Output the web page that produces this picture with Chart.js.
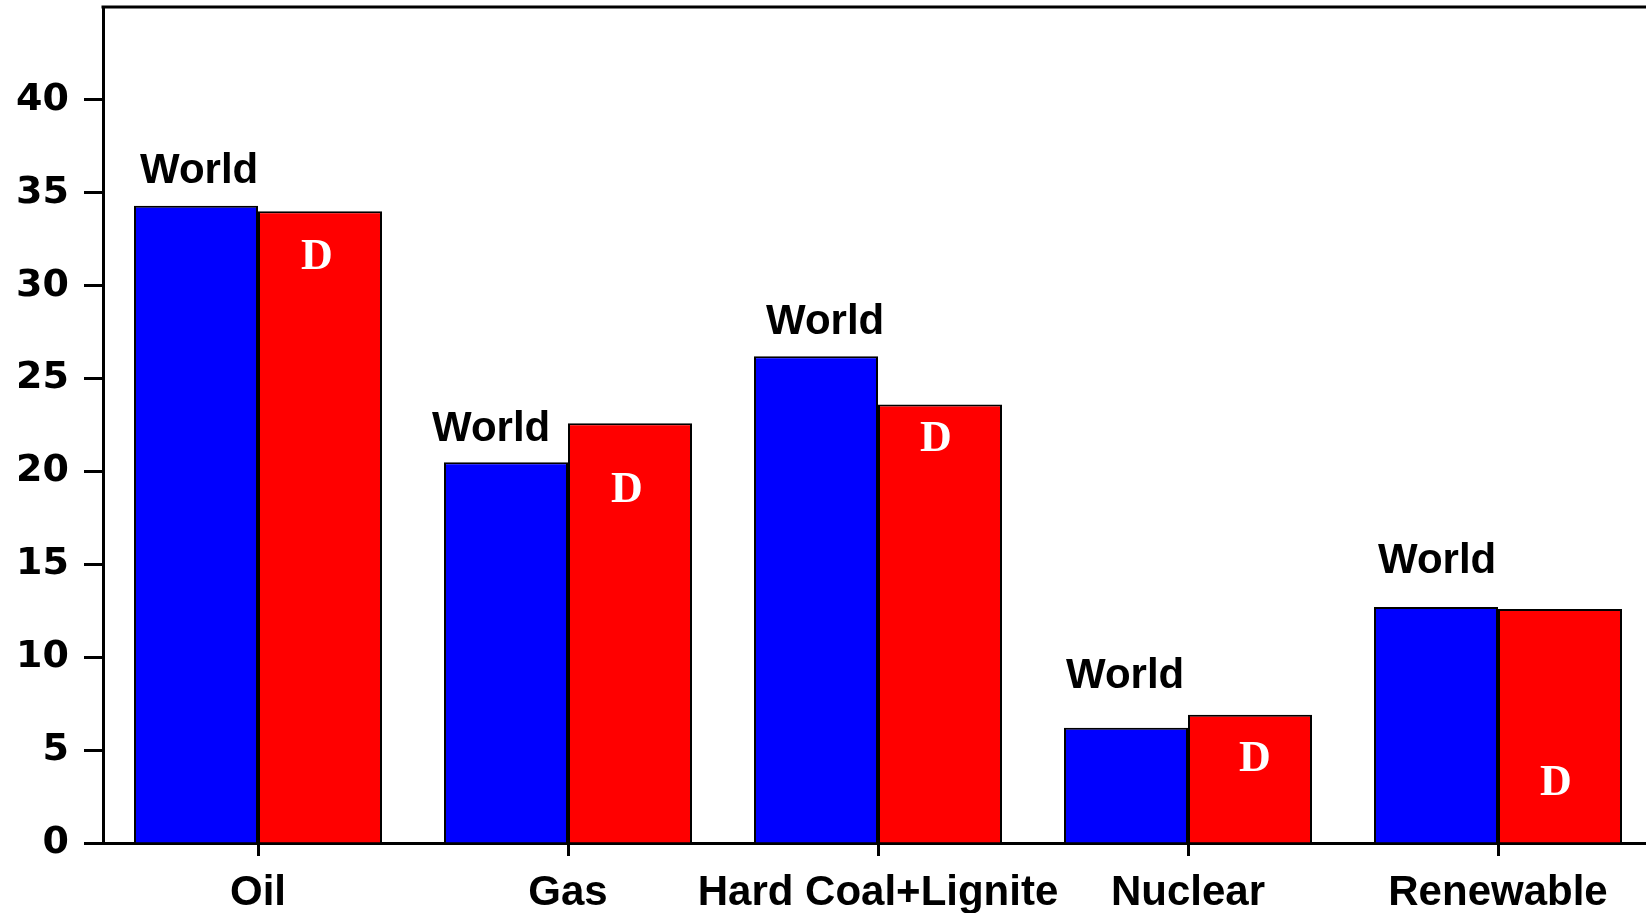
<!DOCTYPE html>
<html>
<head>
<meta charset="utf-8">
<title>Energy mix: World vs D</title>
<script src="https://cdn.jsdelivr.net/npm/chart.js@4.4.1/dist/chart.umd.min.js"></script>
<style>
    html, body { margin: 0; padding: 0; background: #fff; overflow: hidden; }
    canvas { display: block; }
</style>
</head>
<body>
<!-- the original plot runs a few pixels past the right edge of the picture -->
<canvas id="energyChart" width="1653" height="913"></canvas>
<script>
// categories and values (share in %)
const categories = ['Oil', 'Gas', 'Hard Coal+Lignite', 'Nuclear', 'Renewable'];
const worldValues = [34.3, 20.5, 26.2, 6.2, 12.7];
const germanyValues = [34.0, 22.6, 23.6, 6.9, 12.6];
const yTicks = [0, 5, 10, 15, 20, 25, 30, 35, 40];
const yMax = 45;

// text labels placed next to each bar (pixel offsets from the bar top)
const worldLabelOffsets = [[6, -23], [-12, -21], [12, -22], [2, -40], [4, -34]];
const dLabelOffsets = [[-3, 58], [-3, 79], [-4, 46], [5, 56], [-4, 186]];

const frameAndLabels = {
    id: 'frameAndLabels',
    afterDatasetsDraw(chart) {
        const ctx = chart.ctx;
        const area = chart.chartArea;

        // top frame line
        ctx.save();
        ctx.strokeStyle = '#000';
        ctx.lineWidth = 3;
        ctx.beginPath();
        ctx.moveTo(area.left - 1.5, area.top);
        ctx.lineTo(area.right, area.top);
        ctx.stroke();

        const worldBars = chart.getDatasetMeta(0).data;
        const dBars = chart.getDatasetMeta(1).data;

        ctx.fillStyle = '#000';
        ctx.font = 'bold 42px "Liberation Sans", Arial, sans-serif';
        ctx.textAlign = 'left';
        ctx.textBaseline = 'alphabetic';
        worldBars.forEach((bar, i) => {
            const left = bar.x - bar.width / 2;
            ctx.fillText('World', left + worldLabelOffsets[i][0], bar.y + worldLabelOffsets[i][1]);
        });

        ctx.fillStyle = '#fff';
        ctx.font = 'bold 44px "Liberation Serif", "Times New Roman", serif';
        ctx.textAlign = 'center';
        dBars.forEach((bar, i) => {
            ctx.fillText('D', bar.x + dLabelOffsets[i][0], bar.y + dLabelOffsets[i][1]);
        });
        ctx.restore();
    }
};

const ctx = document.getElementById('energyChart').getContext('2d');

new Chart(ctx, {
    type: 'bar',
    data: {
        labels: categories,
        datasets: [{
            label: 'World',
            data: worldValues,
            backgroundColor: '#0000ff',
            borderColor: '#000',
            borderWidth: 2,
            borderSkipped: 'bottom',
            categoryPercentage: 0.8,
            barPercentage: 1.0
        }, {
            label: 'D',
            data: germanyValues,
            backgroundColor: '#ff0000',
            borderColor: '#000',
            borderWidth: 2,
            borderSkipped: 'bottom',
            categoryPercentage: 0.8,
            barPercentage: 1.0
        }]
    },
    options: {
        responsive: false,
        animation: false,
        layout: { padding: { top: 7, right: 0, left: 0, bottom: 0 } },
        plugins: {
            legend: { display: false },
            tooltip: { enabled: false }
        },
        scales: {
            x: {
                offset: true,
                grid: {
                    offset: false,
                    drawOnChartArea: false,
                    drawTicks: true,
                    tickLength: 13,
                    tickWidth: 3,
                    tickColor: '#000'
                },
                border: { display: true, color: '#000', width: 3 },
                ticks: {
                    autoSkip: false,
                    maxRotation: 0,
                    minRotation: 0,
                    padding: 12,
                    color: '#000',
                    font: { family: '"Liberation Sans", Arial, sans-serif', size: 42, weight: 'bold' }
                },
                afterFit(scale) {
                    scale.height = 70;
                    scale.paddingLeft = 0;
                    scale.paddingRight = 0;
                }
            },
            y: {
                min: 0,
                max: yMax,
                grid: {
                    drawOnChartArea: false,
                    drawTicks: true,
                    tickLength: 19,
                    tickWidth: 3,
                    tickColor: '#000'
                },
                border: { display: true, color: '#000', width: 3 },
                ticks: {
                    padding: 15,
                    color: '#000',
                    font: { family: '"DejaVu Sans", Verdana, sans-serif', size: 38, weight: 'bold' }
                },
                afterBuildTicks(scale) {
                    scale.ticks = yTicks.map(v => ({ value: v }));
                },
                afterFit(scale) {
                    scale.width = 103;
                    scale.paddingTop = 0;
                    scale.paddingBottom = 0;
                }
            }
        }
    },
    plugins: [frameAndLabels]
});
</script>
</body>
</html>
